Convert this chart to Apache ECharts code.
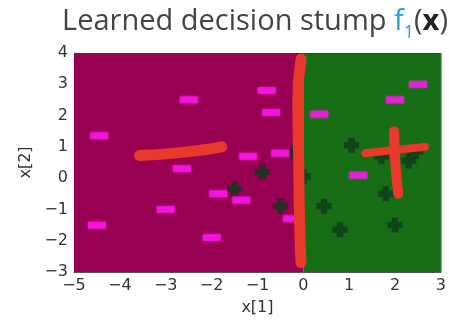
<!DOCTYPE html>
<html>
<head>
<meta charset="utf-8">
<script src="https://cdn.jsdelivr.net/npm/echarts@6/dist/echarts.min.js"></script>
<style>
  html, body { margin: 0; padding: 0; background: #fff; }
  #chart { width: 449px; height: 322px; }
</style>
</head>
<body>
<div id="chart"></div>
<script>
// Axis ranges and ticks
const xTicks = [-5, -4, -3, -2, -1, 0, 1, 2, 3];
const yTicks = [-3, -2, -1, 0, 1, 2, 3, 4];

// Decision stump on x[1]: split threshold and the two predicted regions
const stumpThreshold = 0;
const negRegion = [-5, 0];
const posRegion = [0, 3];

// Training points labelled −1 (x[1], x[2])
const negPoints = [
  [-4.45, 1.35], [-2.5, 2.5], [-0.8, 2.8], [-0.7, 2.1], [0.35, 2.05],
  [2.5, 3.0], [2.0, 2.5], [-1.2, 0.7], [-0.5, 0.8], [-2.65, 0.3],
  [1.2, 0.1], [-1.85, -0.5], [-1.35, -0.7], [-3.0, -1.0], [-4.5, -1.5],
  [-2.0, -1.9], [-0.25, -1.3]
];

// Training points labelled +1 (x[1], x[2])
const posPoints = [
  [1.05, 1.05], [1.7, 0.7], [2.45, 0.85], [2.3, 0.55], [-0.9, 0.2],
  [-0.2, 0.8], [0.0, 0.05], [-1.5, -0.35], [-0.5, -0.9], [0.45, -0.9],
  [0.8, -1.65], [1.8, -0.5], [2.0, -1.5]
];

// Hand-drawn red strokes: "−" on the left, split line, "+" on the right
const minusStroke = [[-3.57, 0.72], [-2.8, 0.8], [-2.2, 0.9], [-1.78, 1.0]];
const splitStroke = [[-0.05, 3.8], [-0.12, 2.5], [-0.1, 0.5], [-0.08, -1.5], [-0.05, -2.7]];
const plusHStroke = [[1.35, 0.8], [2.0, 0.9], [2.65, 1.0]];
const plusVStroke = [[1.98, 1.5], [2.0, 0.6], [2.07, -0.5]];

const minusSign = v => String(v).replace('-', '\u2212');
const red = '#e8392a';

function stroke(data, width) {
  return {
    type: 'line', data: data, smooth: true, symbol: 'none', z: 10,
    lineStyle: { color: red, width: width, cap: 'round', join: 'round' },
    silent: true
  };
}

const chart = echarts.init(document.getElementById('chart'), null, { renderer: 'canvas' });
chart.setOption({
  animation: false,
  title: {
    text: 'Learned decision stump {f|f}{s|1}({b|x})',
    left: 250, top: 2, textAlign: 'center',
    textStyle: {
      fontFamily: 'Open Sans', fontSize: 29, fontWeight: 'normal', color: '#444',
      rich: {
        f: { fontFamily: 'Open Sans', fontSize: 29, color: '#2a9fd8' },
        s: { fontFamily: 'Open Sans', fontSize: 18, color: '#2a9fd8', verticalAlign: 'bottom', padding: [0, 0, -6, 0] },
        b: { fontFamily: 'Open Sans', fontSize: 29, fontWeight: 'bold', color: '#222' }
      }
    }
  },
  grid: { left: 74, right: 7, top: 53, bottom: 50 },
  xAxis: {
    type: 'value', min: -5, max: 3, interval: 1,
    name: 'x[1]', nameLocation: 'middle', nameGap: 28,
    nameTextStyle: { fontFamily: 'DejaVu Sans', fontSize: 16, color: '#333' },
    axisLine: { show: true, onZero: false, lineStyle: { color: '#555', width: 1 } },
    axisTick: { show: false },
    splitLine: { show: false },
    axisLabel: { fontFamily: 'DejaVu Sans', fontSize: 16, color: '#333', margin: 6, formatter: minusSign }
  },
  yAxis: {
    type: 'value', min: -3, max: 4, interval: 1,
    name: 'x[2]', nameLocation: 'middle', nameGap: 40, nameRotate: 90,
    nameTextStyle: { fontFamily: 'DejaVu Sans', fontSize: 16, color: '#333' },
    axisLine: { show: true, onZero: false, lineStyle: { color: '#555', width: 1 } },
    axisTick: { show: false },
    splitLine: { show: false },
    axisLabel: { fontFamily: 'DejaVu Sans', fontSize: 16, color: '#333', margin: 6, formatter: minusSign }
  },
  series: [
    {
      type: 'scatter', data: [], silent: true,
      markArea: {
        silent: true,
        data: [
          [{ xAxis: negRegion[0], yAxis: -3, itemStyle: { color: '#980052' } }, { xAxis: negRegion[1], yAxis: 4 }],
          [{ xAxis: posRegion[0], yAxis: -3, itemStyle: { color: '#176d14' } }, { xAxis: posRegion[1], yAxis: 4 }]
        ]
      },
      markLine: {
        silent: true, symbol: 'none', label: { show: false },
        lineStyle: { color: '#3a3a3a', width: 1, type: 'solid', opacity: 0.5 },
        data: [{ yAxis: 4 }, { xAxis: 3 }]
      }
    },
    {
      name: '+1', type: 'scatter', data: posPoints, z: 3,
      symbol: 'path://M4,0H10V4H14V10H10V14H4V10H0V4H4Z',
      symbolSize: 15,
      itemStyle: { color: '#0c3a1c' }
    },
    {
      name: '-1', type: 'scatter', data: negPoints, z: 4,
      symbol: 'rect', symbolSize: [18, 7],
      itemStyle: { color: '#ff10f0', shadowColor: 'rgba(255,60,255,0.6)', shadowBlur: 2 }
    },
    stroke(minusStroke, 11),
    stroke(splitStroke, 11),
    stroke(plusHStroke, 8),
    stroke(plusVStroke, 10)
  ]
});
</script>
</body>
</html>
